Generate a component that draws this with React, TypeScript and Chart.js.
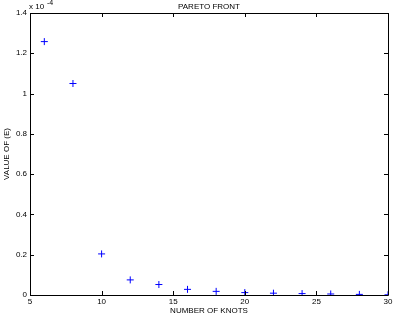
import React, { useEffect, useRef } from "react";
import { Chart, registerables } from "chart.js";

Chart.register(...registerables);

const knots = [6, 8, 10, 12, 14, 16, 18, 20, 22, 24, 26, 28, 30];
// values in units of 1e-4
const errorValues = [1.258, 1.05, 0.204, 0.075, 0.052, 0.028, 0.018, 0.012, 0.009, 0.007, 0.005, 0.003, 0.001];
const xTicks = [5, 10, 15, 20, 25, 30];
const yTicks = [0, 0.2, 0.4, 0.6, 0.8, 1, 1.2, 1.4];
const titleText = "PARETO FRONT";
const xLabel = "NUMBER OF KNOTS";
const yLabel = "VALUE OF (E)";

const FONT = "8px 'Liberation Sans', Arial, Helvetica, sans-serif";

const boxPlugin = {
  id: "matlabBox",
  afterDraw(chart: any) {
    const { ctx, chartArea } = chart;
    const { left, right, top, bottom } = chartArea;
    const xs = chart.scales.x;
    const ys = chart.scales.y;
    ctx.save();
    ctx.strokeStyle = "#000";
    ctx.lineWidth = 1;
    ctx.beginPath();
    ctx.rect(Math.round(left) + 0.5, Math.round(top) + 0.5, Math.round(right - left), Math.round(bottom - top));
    ctx.stroke();
    const tl = 4;
    ctx.beginPath();
    for (const v of xTicks) {
      const px = Math.round(xs.getPixelForValue(v)) + 0.5;
      ctx.moveTo(px, bottom);
      ctx.lineTo(px, bottom - tl);
      ctx.moveTo(px, top);
      ctx.lineTo(px, top + tl);
    }
    for (const v of yTicks) {
      const py = Math.round(ys.getPixelForValue(v)) + 0.5;
      ctx.moveTo(left, py);
      ctx.lineTo(left + tl, py);
      ctx.moveTo(right, py);
      ctx.lineTo(right - tl, py);
    }
    ctx.stroke();

    ctx.fillStyle = "#000";
    ctx.font = FONT;
    // tick labels
    ctx.textAlign = "center";
    ctx.textBaseline = "top";
    for (const v of xTicks) {
      ctx.fillText(String(v), xs.getPixelForValue(v), bottom + 3);
    }
    ctx.textAlign = "right";
    ctx.textBaseline = "middle";
    for (const v of yTicks) {
      ctx.fillText(String(v), left - 3, ys.getPixelForValue(v));
    }
    // exponent
    ctx.textAlign = "left";
    ctx.textBaseline = "alphabetic";
    ctx.fillText("x 10", left - 1, top - 4);
    ctx.font = "7px 'Liberation Sans', Arial, Helvetica, sans-serif";
    ctx.fillText("-4", left + 17, top - 8);
    ctx.font = FONT;
    // title
    ctx.textAlign = "center";
    ctx.textBaseline = "alphabetic";
    ctx.fillText(titleText, (left + right) / 2, top - 4);
    // x label
    ctx.textBaseline = "alphabetic";
    ctx.fillText(xLabel, (left + right) / 2, bottom + 18);
    // y label
    ctx.translate(9, (top + bottom) / 2);
    ctx.rotate(-Math.PI / 2);
    ctx.textAlign = "center";
    ctx.textBaseline = "alphabetic";
    ctx.fillText(yLabel, 0, 0);
    ctx.restore();
  },
};

export default function App() {
  const ref = useRef<HTMLCanvasElement | null>(null);
  useEffect(() => {
    if (!ref.current) return;
    const chart = new Chart(ref.current, {
      type: "scatter",
      data: {
        datasets: [
          {
            data: knots.map((k, i) => ({ x: k, y: errorValues[i] })),
            pointStyle: "cross",
            pointRadius: 3.5,
            pointBorderWidth: 1,
            borderColor: "#0000ff",
            backgroundColor: "#0000ff",
            showLine: false,
          },
        ],
      },
      options: {
        animation: false,
        responsive: false,
        devicePixelRatio: 1,
        layout: { padding: { left: 0, right: 5, top: 13, bottom: 0 } },
        plugins: { legend: { display: false }, tooltip: { enabled: false }, title: { display: false } },
        scales: {
          x: {
            type: "linear",
            min: 5,
            max: 30,
            grid: { display: false },
            border: { display: false },
            ticks: { display: false },
            afterFit: (s: any) => {
              s.height = 20;
            },
          },
          y: {
            type: "linear",
            min: 0,
            max: 1.4,
            grid: { display: false },
            border: { display: false },
            ticks: { display: false },
            afterFit: (s: any) => {
              s.width = 30;
            },
          },
        },
      },
      plugins: [boxPlugin],
    });
    return () => chart.destroy();
  }, []);
  return (
    <div style={{ position: "fixed", left: 0, top: 0, width: 393, height: 315, background: "#fff" }}>
      <canvas ref={ref} width={393} height={315} style={{ display: "block" }} />
    </div>
  );
}
